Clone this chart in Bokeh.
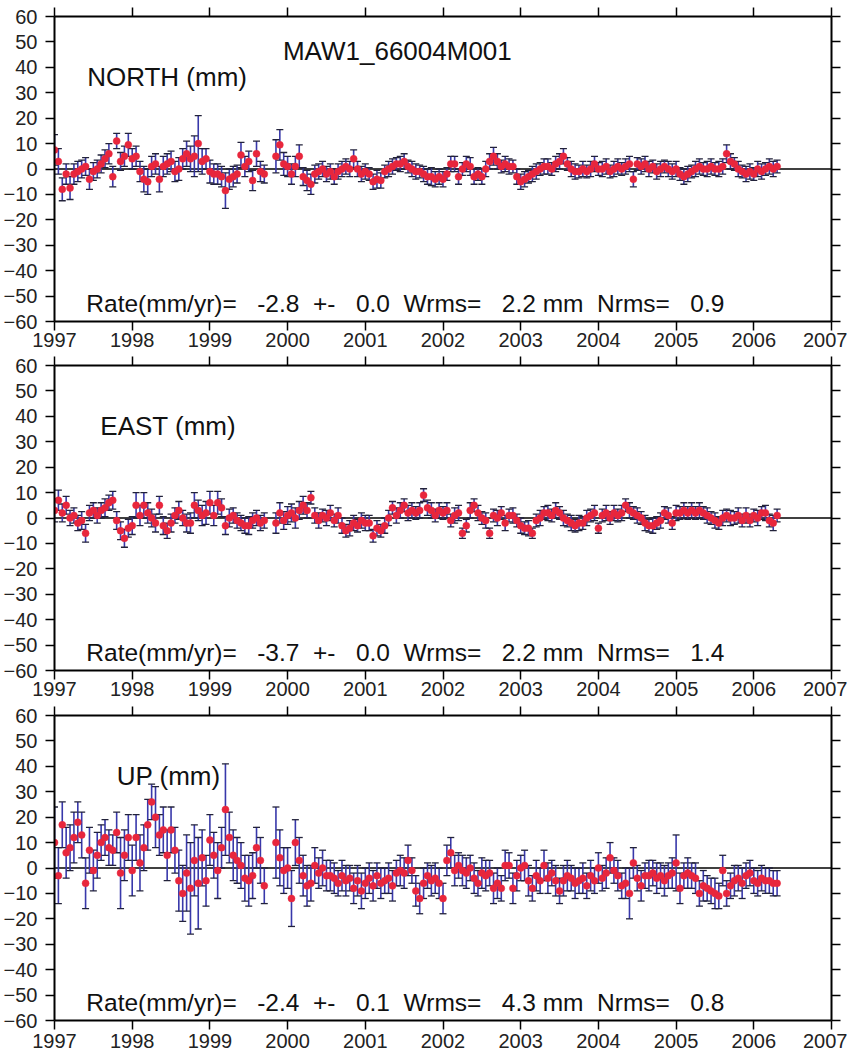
from bokeh.plotting import figure
from bokeh.models import (ColumnDataSource, Whisker, TeeHead, Span, Label,
                          LinearAxis, FixedTicker, Range1d)
from bokeh.layouts import column
from bokeh.embed import file_html
from bokeh.resources import INLINE

# ---------------- data ----------------
station = "MAW1_66004M001"
components = ["NORTH (mm)", "EAST (mm)", "UP (mm)"]
rates = [-2.8, -3.7, -2.4]
rate_errs = [0.0, 0.0, 0.1]
wrms_vals = [2.2, 2.2, 4.3]
nrms_vals = [0.9, 1.4, 0.8]

year_ticks = [1997, 1998, 1999, 2000, 2001, 2002, 2003, 2004, 2005, 2006, 2007]
mm_ticks = [-60, -50, -40, -30, -20, -10, 0, 10, 20, 30, 40, 50, 60]

epochs = [
    1997.00, 1997.05, 1997.10, 1997.15, 1997.20, 1997.25, 1997.30, 1997.35, 1997.40, 1997.45,
    1997.50, 1997.55, 1997.60, 1997.65, 1997.70, 1997.75, 1997.80, 1997.85, 1997.90, 1997.95,
    1998.00, 1998.05, 1998.10, 1998.15, 1998.20, 1998.25, 1998.30, 1998.35, 1998.40, 1998.45,
    1998.50, 1998.55, 1998.60, 1998.65, 1998.70, 1998.75, 1998.80, 1998.85, 1998.90, 1998.95,
    1999.00, 1999.05, 1999.10, 1999.15, 1999.20, 1999.25, 1999.30, 1999.35, 1999.40, 1999.45,
    1999.50, 1999.55, 1999.60, 1999.65, 1999.70,
    1999.85, 1999.90, 1999.95,
    2000.00, 2000.05, 2000.10, 2000.15, 2000.20, 2000.25, 2000.30, 2000.35, 2000.40, 2000.45,
    2000.50, 2000.55, 2000.60, 2000.65, 2000.70, 2000.75, 2000.80, 2000.85, 2000.90, 2000.95,
    2001.00, 2001.05, 2001.10, 2001.15, 2001.20, 2001.25, 2001.30, 2001.35, 2001.40, 2001.45,
    2001.50, 2001.55, 2001.60, 2001.65, 2001.70, 2001.75, 2001.80, 2001.85, 2001.90, 2001.95,
    2002.00, 2002.05, 2002.10, 2002.15, 2002.20, 2002.25, 2002.30, 2002.35, 2002.40, 2002.45,
    2002.50, 2002.55, 2002.60, 2002.65, 2002.70, 2002.75, 2002.80, 2002.85, 2002.90, 2002.95,
    2003.00, 2003.05, 2003.10, 2003.15, 2003.20, 2003.25, 2003.30, 2003.35, 2003.40, 2003.45,
    2003.50, 2003.55, 2003.60, 2003.65, 2003.70, 2003.75, 2003.80, 2003.85, 2003.90, 2003.95,
    2004.00, 2004.05, 2004.10, 2004.15, 2004.20, 2004.25, 2004.30, 2004.35, 2004.40, 2004.45,
    2004.50, 2004.55, 2004.60, 2004.65, 2004.70, 2004.75, 2004.80, 2004.85, 2004.90, 2004.95,
    2005.00, 2005.05, 2005.10, 2005.15, 2005.20, 2005.25, 2005.30, 2005.35, 2005.40, 2005.45,
    2005.50, 2005.55, 2005.60, 2005.65, 2005.70, 2005.75, 2005.80, 2005.85, 2005.90, 2005.95,
    2006.00, 2006.05, 2006.10, 2006.15, 2006.20, 2006.25, 2006.30,
]

north = [
    7.5, 3, -8, -2, -7.5, -2, -1, 0, 1, -4, -1, 0, 2, 4, 6, -3, 11, 3, 5, 9.5,
    4, 5, -1, -4, -5, 1, 2, -4, 1, 2, 3, -1, 0, 4, 6, 4, 5, 10, 3, 4,
    -1, -2, -2, -3, -8.5, -4, -3, -2, 5.5, 1, 3, -4.5, 6, -1, -2,
    5, 9.5, 2,
    1, -2, 1, 5, -3, -4.5, -6, -2, -1, 0, -2, -1, -3, -1, 0, 1, 0, 4, 0, -2,
    -1, -2, -5, -4, -4.5, -1, 0, 1, 2, 2, 3, 1, 0, -1, -1, -2, -3, -3, -4, -3,
    -4, -2, 2, 2, -3, 0, 2, 1, -3, -2, -3, 0, 3, 5, 3, 1, 2, 1, 1, -3,
    -5, -4, -3, -2, -1, 0, 1, 1, 0, 2, 3, 5, 2, 0, -1, -1, 0, -1, 0, 2,
    0, 0, 1, -1, 0, 1, 0, 1, 2, -4, 2, 1, 2, 0, 1, -1, 0, 1, 0, -1,
    0, -2, -3, -2, -1, 0, 1, 0, 0, 1, 0, 0, 1, 6, 3, 2, 0, -1, -2, -1,
    -2, 0, -1, 0, 1, 0, 1,
]
north_sigma = [
    6, 5, 4.5, 4, 4.5, 4, 4, 3.5, 3.5, 4, 3.5, 3.5, 3.5, 3.5, 4, 4, 3, 3.5, 4, 4.5,
    4, 4, 4, 5, 5, 4, 4, 5, 4, 4, 4, 4, 4.5, 4, 5, 5, 8, 11, 5, 4,
    4.5, 4, 4, 4, 7, 4, 4, 3.5, 5, 4, 4, 4, 5, 4, 3.5,
    6.5, 6, 4.5,
    4, 4, 4, 4.5, 3.5, 4, 4, 3.5, 3, 3, 3, 3, 3, 3, 3, 3, 3, 3.5, 3, 3,
    3, 2.5, 3, 3.5, 3, 2.5, 3, 3, 2.5, 3, 3, 2.5, 3, 3, 2.5, 3, 3, 3.5, 3, 3,
    3, 2.5, 3, 3, 3, 2.5, 3, 3.5, 3, 2.5, 3, 3, 3, 3.5, 3, 2.5, 3, 3, 2.5, 3,
    3, 3, 2.5, 3, 3, 2.5, 3, 3, 2.5, 3, 3, 3, 2.5, 3, 3, 2.5, 3, 2.5, 3, 3,
    2.5, 3, 3, 2.5, 3, 3, 2.5, 3, 3, 3, 2.5, 3, 3, 3, 2.5, 3, 3, 2.5, 3, 3,
    3, 2.5, 3, 3, 2.5, 3, 3, 2.5, 3, 3, 2.5, 3, 3, 3.5, 3, 2.5, 3, 2.5, 3, 3,
    2.5, 3, 3, 2.5, 3, 3, 2.5,
]

east = [
    3, 7, 2, 5, 0, 1, -2, -1, -6, 2, 3, 1, 3, 4, 6, 7, -1, -5, -8, -4,
    -3, 5, 1, 5, 2, 0, -2, 5, -3, -5, -2, 1, 3, 0, -2, -2, 5, 3, 1, 2,
    6, 1, 6, 4, -3, 0, 1, -1, -2, -3, -3, -1, 0, -2, -1,
    -2, 2, -1,
    1, 2, 0, 3, 5, 3, 8, 1, -1, 1, 0, 2, -1, 1, -3, -5, -4, -2, -3, -1,
    -2, -2, -7, -4, -5, -3, 0, 4, 1, 3, 5, 2, 3, 2, 3, 9, 4, 3, 1, 3,
    2, 3, -1, 1, 2, -6, -3, 3, 5, 2, 0, -1, -6, 1, 0, 2, -2, 1, 1, -1,
    -3, -4, -4, -6, -1, 0, 2, 2, 1, 3, 2, 0, -1, -2, -3, -2, -2, 0, 1, 2,
    -4, 1, 2, 0, 2, 1, 2, 5, 3, 2, 1, 0, -2, -3, -3, -2, -1, 2, 1, -2,
    2, 2, 3, 2, 3, 2, 3, 2, 1, 0, -1, -2, 0, 1, 0, 0, 1, -1, 1, -1,
    1, 0, 2, 2, -1, -2, 1,
]
east_sigma = [
    4.5, 4, 3.5, 3.5, 3, 3, 3, 3.5, 3.5, 3, 3, 3, 3, 3.5, 3, 3.5, 3.5, 3.5, 3.5, 3.5,
    3.5, 5, 4, 5, 4, 3.5, 3.5, 3.5, 3.5, 3, 3.5, 3, 3.5, 3, 3.5, 4, 5, 4, 4, 4.5,
    4.5, 4, 4.5, 3.5, 3.5, 3.5, 3, 3, 3, 3, 3.5, 3, 3, 3, 3,
    4, 4, 3.5,
    3.5, 3.5, 4, 3.5, 3.5, 3, 2.5, 3, 3, 2.5, 3, 3, 2.5, 3, 3, 2.5, 3, 3, 2.5, 3,
    3, 3, 2.5, 3, 2.5, 3, 3, 2.5, 3, 3, 2.5, 3, 3, 2.5, 3, 2.5, 3, 3, 2.5, 3,
    2.5, 3, 2.5, 3, 3, 2, 2.5, 3, 2.5, 3, 2.5, 3, 2, 2.5, 3, 2.5, 3, 2.5, 3, 2.5,
    3, 2.5, 3, 2, 2.5, 3, 2.5, 3, 2.5, 3, 2.5, 3, 2.5, 3, 2.5, 3, 2.5, 3, 2.5, 3,
    2, 2.5, 3, 2.5, 3, 2.5, 3, 2.5, 3, 2.5, 3, 2.5, 3, 2.5, 3, 2.5, 3, 2.5, 3, 2.5,
    3, 2.5, 3, 2.5, 3, 2.5, 3, 2.5, 3, 2.5, 3, 2.5, 3, 2.5, 3, 2.5, 3, 2.5, 3, 2.5,
    2.5, 3, 2.5, 3, 2.5, 3, 2.5,
]

up = [
    10, -3, 17, 6, 8, 12, 18, 13, -6, 7, -1, 5, 10, 12, 8, 7, 14, -2, 5, 12,
    -1, 12, 2, 8, 17, 26, 20, 13, 15, 5, 15, 7, -5, -10, -2, -8, 3, -6, 4, -5,
    11, 5, -1, 8, 23, 12, 5, 3, 1, -4, -5, -3, 8, 3, -7,
    10, 4, -1,
    0, -12, 10, 3, -3, -7, -6, 1, -2, 0, -3, -3, -4, -6, -3, -5, -4, -8, -5, -9,
    -6, -4, -7, -3, -6, -5, -4, -7, -2, -1, -2, 3, -1, -9, -12, -6, -3, -5, -4, -6,
    -12, 3, 6, -1, 1, -1, -2, 0, -4, -6, -2, -3, -2, -8, -6, -8, 1, 1, -8, -3,
    0, 1, -5, -8, -3, -5, 1, -4, -2, -5, -9, -5, -3, -4, -6, -5, -4, -7, -3, -5,
    0, -4, -2, 4, -1, -3, -7, -6, -10, 2, -4, -7, -3, -3, -2, -4, -3, -5, -3, -2,
    2, -8, -3, -2, -3, -4, -10, -7, -8, -9, -10, -11, -1, -10, -7, -5, -4, -6, -3, -2,
    -5, -6, -4, -5, -5, -6, -6,
]
up_sigma = [
    14, 11, 9, 10, 9, 10, 8, 9, 10, 9, 8, 9, 7, 7, 7, 6, 8, 14, 10, 9,
    10, 9, 11, 9, 10, 7, 12, 8, 9, 10, 9, 9, 12, 11, 15, 18, 14, 18, 11, 10,
    10, 9, 11, 8, 18, 10, 10, 9, 9, 9, 10, 9, 8, 9, 7,
    14, 11, 9,
    8, 11, 9, 9, 8, 8, 7, 7, 6, 7, 6, 6, 6, 5, 6, 6, 5, 6, 6, 7,
    6, 6, 6, 5, 6, 5, 6, 6, 5, 6, 6, 6, 5, 6, 6, 6, 5, 6, 6, 6,
    6, 6, 6, 6, 5, 6, 6, 5, 6, 5, 6, 6, 5, 6, 6, 5, 6, 5, 6, 6,
    5, 6, 6, 5, 6, 5, 6, 6, 5, 6, 5, 6, 6, 5, 6, 5, 6, 5, 6, 5,
    6, 5, 6, 6, 5, 6, 5, 6, 10, 6, 5, 6, 5, 6, 5, 6, 5, 6, 5, 6,
    11, 6, 5, 6, 5, 6, 5, 6, 5, 5, 6, 5, 6, 5, 5, 6, 5, 6, 5, 5,
    5, 5, 5, 5, 5, 5, 5,
]

series = [north, east, up]
sigmas = [north_sigma, east_sigma, up_sigma]
for s, e in zip(series, sigmas):
    assert len(s) == len(epochs) == len(e), (len(s), len(epochs), len(e))

# ---------------- styling ----------------
FONT = "Liberation Sans"
BAR_COLOR = "#3838aa"
CAP_COLOR = "#22223a"
DOT_COLOR = "#e8263c"
label_x = [1997.42, 1997.59, 1997.80]

# per-panel layout: (height, border_top, border_bottom, year-label standoff)
panel_layout = [(355, 16, 34, 2), (350, 10, 35, 2), (350, 10, 35, 4)]


def style_axis(ax, ticks, show_labels, standoff=3):
    ax.ticker = FixedTicker(ticks=ticks)
    ax.axis_line_color = "black"
    ax.axis_line_width = 2
    ax.major_tick_line_color = "black"
    ax.major_tick_line_width = 1.5
    ax.major_tick_out = 9
    ax.major_tick_in = 0
    ax.minor_tick_line_color = None
    ax.major_label_text_font = FONT
    if show_labels:
        ax.major_label_text_color = "#222222"
        ax.major_label_text_font_size = "20px"
        ax.major_label_standoff = standoff
    else:
        ax.major_label_text_color = None
        ax.major_label_text_font_size = "1px"
        ax.major_label_standoff = 0


figs = []
for i in range(3):
    h, bt, bb, so = panel_layout[i]
    p = figure(width=847, height=h,
               x_range=Range1d(1997, 2007), y_range=Range1d(-60, 60),
               x_axis_type=None, y_axis_type=None,
               output_backend="svg", toolbar_location=None,
               min_border_left=46, min_border_right=16,
               min_border_top=bt, min_border_bottom=bb)
    p.outline_line_color = None
    p.background_fill_color = "white"
    p.border_fill_color = "white"

    bottom = LinearAxis()
    style_axis(bottom, year_ticks, True, standoff=so)
    p.add_layout(bottom, "below")
    top = LinearAxis()
    style_axis(top, year_ticks, False)
    p.add_layout(top, "above")
    left = LinearAxis()
    style_axis(left, mm_ticks, True, standoff=8)
    p.add_layout(left, "left")
    right = LinearAxis()
    style_axis(right, mm_ticks, False)
    p.add_layout(right, "right")

    vals = series[i]
    sig = sigmas[i]
    src = ColumnDataSource(dict(
        t=epochs, v=vals,
        lo=[v - s for v, s in zip(vals, sig)],
        hi=[v + s for v, s in zip(vals, sig)],
    ))

    zero = Span(location=0, dimension="width", line_color="black",
                line_width=1.5, level="underlay")
    p.add_layout(zero)

    wh = Whisker(base="t", lower="lo", upper="hi", source=src, dimension="height",
                 line_color=BAR_COLOR, line_width=1.6, level="underlay",
                 upper_head=TeeHead(size=7, line_color=CAP_COLOR, line_width=1.3),
                 lower_head=TeeHead(size=7, line_color=CAP_COLOR, line_width=1.3))
    p.add_layout(wh)

    p.scatter("t", "v", source=src, size=7, fill_color=DOT_COLOR,
              line_color=DOT_COLOR, line_width=0.5)

    p.add_layout(Label(x=label_x[i], y=36.3, text=components[i],
                       text_font=FONT, text_font_size="26px",
                       text_color="#111111", text_baseline="alphabetic"))

    rate_txt = ("Rate(mm/yr)=   %.1f  +-   %.1f  Wrms=   %.1f mm  Nrms=   %.1f"
                % (rates[i], rate_errs[i], wrms_vals[i], nrms_vals[i]))
    rate_txt = rate_txt.replace(" ", "\u00a0")
    p.add_layout(Label(x=1997.41, y=-53, text=rate_txt,
                       text_font=FONT, text_font_size="24.5px",
                       text_color="#111111", text_baseline="alphabetic"))

    if i == 0:
        p.add_layout(Label(x=1999.94, y=46.5, text=station,
                           text_font=FONT, text_font_size="26px",
                           text_color="#111111", text_baseline="alphabetic"))
    figs.append(p)

layout = column(*figs, spacing=0)
open("out.html", "w").write(file_html(layout, INLINE, title="MAW1_66004M001"))
